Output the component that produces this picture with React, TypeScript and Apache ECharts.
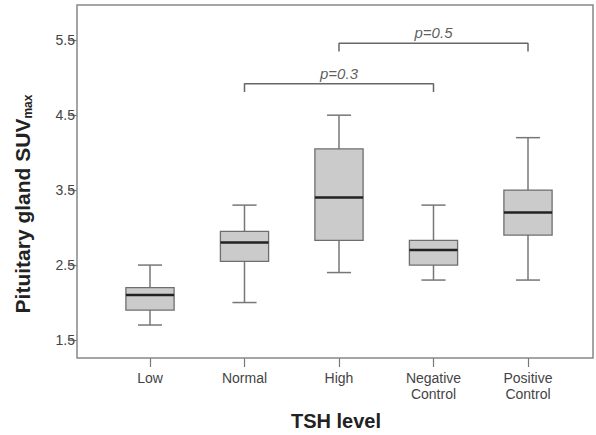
import React, { useEffect, useRef } from "react";
import * as echarts from "echarts";

const categories = ["Low", "Normal", "High", "Negative\nControl", "Positive\nControl"];
const whiskerLow = [1.7, 2.0, 2.4, 2.3, 2.3];
const quartile1 = [1.9, 2.55, 2.83, 2.5, 2.9];
const medians = [2.1, 2.8, 3.4, 2.7, 3.2];
const quartile3 = [2.2, 2.95, 4.05, 2.83, 3.5];
const whiskerHigh = [2.5, 3.3, 4.5, 3.3, 4.2];
const yTicks = [1.5, 2.5, 3.5, 4.5, 5.5];
const brackets = [
  { from: 1, to: 3, y: 4.92, label: "p=0.3" },
  { from: 2, to: 4, y: 5.46, label: "p=0.5" },
];

const FONT = "'Liberation Sans', Arial, sans-serif";

export default function App() {
  const ref = useRef<HTMLDivElement>(null);
  useEffect(() => {
    if (!ref.current) return;
    const chart = echarts.init(ref.current, null, { renderer: "svg" });
    const rows = categories.map((_, i) => [i, whiskerLow[i], quartile1[i], medians[i], quartile3[i], whiskerHigh[i]]);
    const drop = 0.11;
    const bracketSeries = brackets.map((b) => ({
      type: "line",
      data: [
        [b.from, b.y - drop],
        [b.from, b.y],
        [b.to, b.y],
        [b.to, b.y - drop],
      ],
      symbol: "none",
      lineStyle: { color: "#666", width: 1.5 },
      silent: true,
      z: 3,
    }));
    const option: any = {
      animation: false,
      backgroundColor: "#fff",
      textStyle: { fontFamily: FONT },
      grid: { left: 102.75, right: 20.75, top: 5, bottom: 77 },
      xAxis: {
        type: "category",
        data: categories,
        boundaryGap: true,
        axisLine: { show: false },
        axisTick: { show: true, alignWithLabel: true, length: 9, lineStyle: { color: "#777", width: 1.2 } },
        axisLabel: { margin: 12, fontSize: 14, lineHeight: 16, color: "#444", fontFamily: FONT },
        splitLine: { show: false },
      },
      yAxis: {
        type: "value",
        min: 1.26,
        max: 5.97,
        offset: 25.75,
        axisLine: { show: false },
        axisTick: { show: true, customValues: yTicks, length: 9, lineStyle: { color: "#777", width: 1.2 } },
        axisLabel: {
          customValues: yTicks,
          margin: 2,
          fontSize: 14,
          color: "#444",
          fontFamily: FONT,
          formatter: (v: number) => v.toFixed(1),
        },
        splitLine: { show: false },
      },
      graphic: [
        {
          type: "rect",
          shape: { x: 77, y: 5, width: 516, height: 353 },
          style: { fill: "none", stroke: "#888", lineWidth: 1.5 },
          silent: true,
          z: 1,
        },
        {
          type: "text",
          x: 22,
          y: 204,
          rotation: Math.PI / 2,
          style: {
            text: "{a|Pituitary gland SUV}{b|max}",
            align: "center",
            verticalAlign: "middle",
            fill: "#222",
            rich: {
              a: { fontSize: 21, fontWeight: "bold", fontFamily: FONT, fill: "#222", lineHeight: 24 },
              b: { fontSize: 12, fontWeight: "bold", fontFamily: FONT, fill: "#222", verticalAlign: "bottom", lineHeight: 24, padding: [8, 0, 0, 0] },
            },
          },
        },
        {
          type: "text",
          x: 336,
          y: 421,
          style: {
            text: "TSH level",
            align: "center",
            verticalAlign: "middle",
            fontSize: 20,
            fontWeight: "bold",
            fontFamily: FONT,
            fill: "#222",
          },
        },
      ],
      series: [
        {
          type: "custom",
          data: rows,
          encode: { x: 0, y: [1, 2, 3, 4, 5] },
          z: 2,
          renderItem: (params: any, api: any) => {
            const i = api.value(0);
            const pMin = api.coord([i, api.value(1)]);
            const pQ1 = api.coord([i, api.value(2)]);
            const pMed = api.coord([i, api.value(3)]);
            const pQ3 = api.coord([i, api.value(4)]);
            const pMax = api.coord([i, api.value(5)]);
            const band = api.size([1, 0])[0];
            const bw = band * 0.51;
            const cw = bw * 0.5;
            const cx = pMed[0];
            const wStyle = { stroke: "#777", lineWidth: 1.5 };
            return {
              type: "group",
              children: [
                { type: "line", shape: { x1: cx, y1: pMax[1], x2: cx, y2: pQ3[1] }, style: wStyle },
                { type: "line", shape: { x1: cx, y1: pQ1[1], x2: cx, y2: pMin[1] }, style: wStyle },
                { type: "line", shape: { x1: cx - cw / 2, y1: pMax[1], x2: cx + cw / 2, y2: pMax[1] }, style: wStyle },
                { type: "line", shape: { x1: cx - cw / 2, y1: pMin[1], x2: cx + cw / 2, y2: pMin[1] }, style: wStyle },
                {
                  type: "rect",
                  shape: { x: cx - bw / 2, y: pQ3[1], width: bw, height: pQ1[1] - pQ3[1] },
                  style: { fill: "#cbcbcb", stroke: "#6e6e6e", lineWidth: 1.3 },
                },
                {
                  type: "line",
                  shape: { x1: cx - bw / 2, y1: pMed[1], x2: cx + bw / 2, y2: pMed[1] },
                  style: { stroke: "#222", lineWidth: 2.5 },
                },
              ],
            };
          },
        },
        ...bracketSeries,
        {
          type: "scatter",
          data: brackets.map((b) => ({ value: [(b.from + b.to) / 2, b.y], name: b.label })),
          symbolSize: 0,
          silent: true,
          label: {
            show: true,
            position: "top",
            distance: 3,
            formatter: (p: any) => p.name,
            fontSize: 15,
            fontStyle: "italic",
            color: "#333",
            fontFamily: FONT,
          },
          z: 4,
        },
      ],
    };
    chart.setOption(option);
    return () => chart.dispose();
  }, []);
  return <div ref={ref} style={{ position: "fixed", left: 0, top: 0, width: 596, height: 435 }} />;
}
